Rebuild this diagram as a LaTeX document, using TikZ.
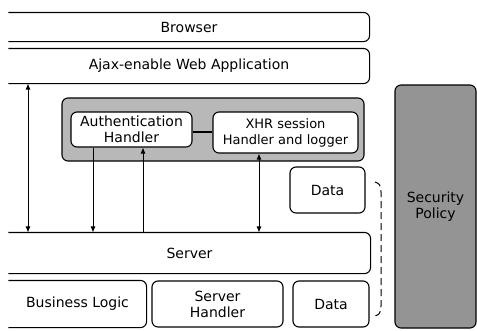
\documentclass[tikz,border=0pt]{standalone}
\usepackage{fontspec}
\setmainfont{DejaVu Sans}
\usetikzlibrary{arrows.meta,calc}
\begin{document}
\begin{tikzpicture}[x=1pt,y=-1pt,
  font=\fontsize{14}{16}\selectfont,
  line width=1.1pt,
  box/.style={draw, rounded corners=6pt, align=center, inner sep=0pt},
  openbox/.style={draw=none, align=center, inner sep=0pt},
  arr/.style={-{Latex[length=6pt,width=5pt]}, line width=0.9pt},
  darr/.style={{Latex[length=6pt,width=5pt]}-{Latex[length=6pt,width=5pt]}, line width=0.9pt},
  grpfill/.style={fill=black!28},
  secfill/.style={fill=black!42}]
\useasboundingbox (0,0) rectangle (477,330);

% open-left boxes
\node[openbox, minimum width=360pt, minimum height=28pt] (browser) at (189,27) {Browser};
\node[openbox, minimum width=360pt, minimum height=34pt] (ajax) at (189,66) {Ajax-enable Web Application};
\node[openbox, minimum width=361pt, minimum height=40pt] (server) at (189.5,253) {Server};
\node[openbox, minimum width=137pt, minimum height=46pt] (bl) at (77.5,304) {Business Logic};
\foreach \n in {browser,ajax,server,bl}{
  \draw[rounded corners=6pt] (\n.north west) -- (\n.north east) -- (\n.south east) -- (\n.south west);
}

% group container
\node[box, grpfill, minimum width=302pt, minimum height=63pt] (grp) at (213,129.5) {};
\node[box, fill=white, minimum width=121pt, minimum height=35pt] (auth) at (131.5,129.5) {Authentication\\Handler};
\node[box, fill=white, minimum width=145pt, minimum height=41pt, font=\fontsize{13}{16}\selectfont] (xhr) at (285.5,132.5) {XHR session\\Handler and logger};
\draw (auth.east |- 0,132) coordinate (lk1) -- (xhr.west |- lk1);

% data and lower boxes
\node[box, minimum width=75pt, minimum height=46pt] (data1) at (327.5,190) {Data};
\node[box, minimum width=131pt, minimum height=46pt] (sh) at (217.5,304) {Server\\Handler};
\node[box, minimum width=76pt, minimum height=46pt] (data2) at (331,304) {Data};

% security policy
\node[box, secfill, minimum width=81pt, minimum height=243pt] (sec) at (435.5,206.5) {Security\\Policy};

% dashed bracket
\coordinate (b1) at (375,182);
\coordinate (b2) at (381,192);
\coordinate (b3) at (381,306);
\coordinate (b4) at (375,316);
\draw[dashed, dash pattern=on 7pt off 4pt, line width=1pt] (b1) .. controls (380,184) .. (b2) -- (b3) .. controls (380,314) .. (b4);

% arrows
\coordinate (x1) at (28,0);
\coordinate (x2) at (93,0);
\coordinate (x3) at (143,0);
\coordinate (x4) at (259,0);
\draw[darr] (x1 |- ajax.south) -- (x1 |- server.north);
\draw[arr] (x2 |- auth.south) -- (x2 |- server.north);
\draw[arr] (x3 |- server.north) -- (x3 |- auth.south);
\draw[darr] (x4 |- xhr.south) -- (x4 |- server.north);
\end{tikzpicture}
\end{document}
